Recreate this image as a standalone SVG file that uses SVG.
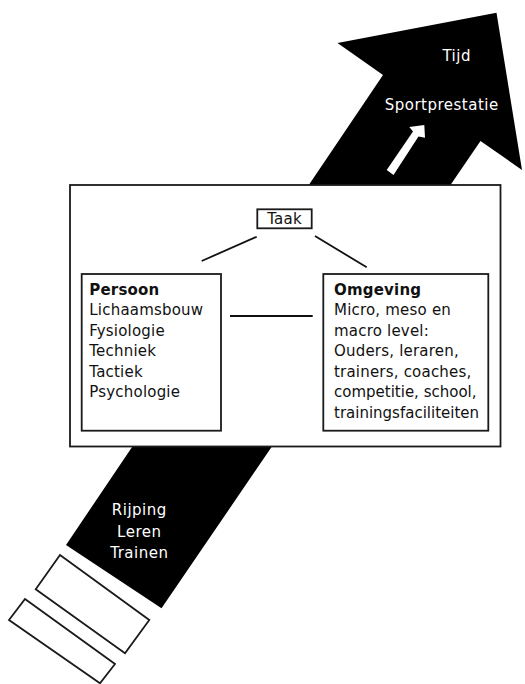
<svg xmlns="http://www.w3.org/2000/svg" width="525" height="684" viewBox="0 0 525 684">
<style>
text{font-family:"DejaVu Sans","Liberation Sans",sans-serif;font-size:15px;letter-spacing:0.2px;fill:#111}
.w{fill:#fff;letter-spacing:0.5px}
.c{text-anchor:middle}
.b{font-weight:bold}
.t{letter-spacing:0}
.box{fill:#fff;stroke:#1a1a1a;stroke-width:1.8}
.ln{stroke:#111;stroke-width:1.8;fill:none}
</style>
<rect width="525" height="684" fill="#fff"/>
<g id="big-arrow">
<polygon points="337.5,43 496.5,12.7 522,170 480.5,141 161.5,608.3 66,545 383,75" fill="#000"/>
<polygon points="386.7,170 393.5,175 418.5,136.5 425,137.8 424.3,125 409.3,127 413,131.5" fill="#fff"/>
<text class="w c" x="456.7" y="61">Tijd</text>
<text class="w c" x="441.7" y="110">Sportprestatie</text>
<text class="w c" x="139.3" y="515">Rijping</text>
<text class="w c" x="139.3" y="536.7">Leren</text>
<text class="w c" x="139.3" y="558.3">Trainen</text>
</g>
<g id="tail">
<polygon class="box" points="60,555 149.3,620 125,653.3 35.7,589.3"/>
<polygon class="box" points="25,599 115,664 100,683.3 9,620"/>
</g>
<g id="frame">
<rect class="box" x="70" y="185" width="430.5" height="261.5"/>
</g>
<g id="taak">
<rect class="box" x="257.3" y="209.3" width="54.4" height="19"/>
<text class="c" x="284.5" y="224.3">Taak</text>
</g>
<g id="persoon">
<rect class="box" x="81.7" y="274" width="139.3" height="156.7"/>
<text x="89.3" y="294.5" class="b">Persoon</text>
<text x="89.3" y="315">Lichaamsbouw</text>
<text x="89.3" y="335.5">Fysiologie</text>
<text x="89.3" y="356">Techniek</text>
<text x="89.3" y="376.5">Tactiek</text>
<text x="89.3" y="397">Psychologie</text>
</g>
<g id="omgeving">
<rect class="box" x="323.3" y="274" width="165" height="156.7"/>
<text x="334" y="294.5" class="b">Omgeving</text>
<text x="334" y="315">Micro, meso en</text>
<text x="334" y="335.5">macro level:</text>
<text x="334" y="356">Ouders, leraren,</text>
<text x="334" y="376.5">trainers, coaches,</text>
<text x="334" y="397" class="t">competitie, school,</text>
<text x="334" y="417.5" class="t">trainingsfaciliteiten</text>
</g>
<g id="connectors">
<line class="ln" x1="256.7" y1="236.7" x2="201.7" y2="261"/>
<line class="ln" x1="315" y1="236" x2="366.7" y2="267.3"/>
<line class="ln" x1="230" y1="316" x2="312.7" y2="316"/>
</g>
</svg>
